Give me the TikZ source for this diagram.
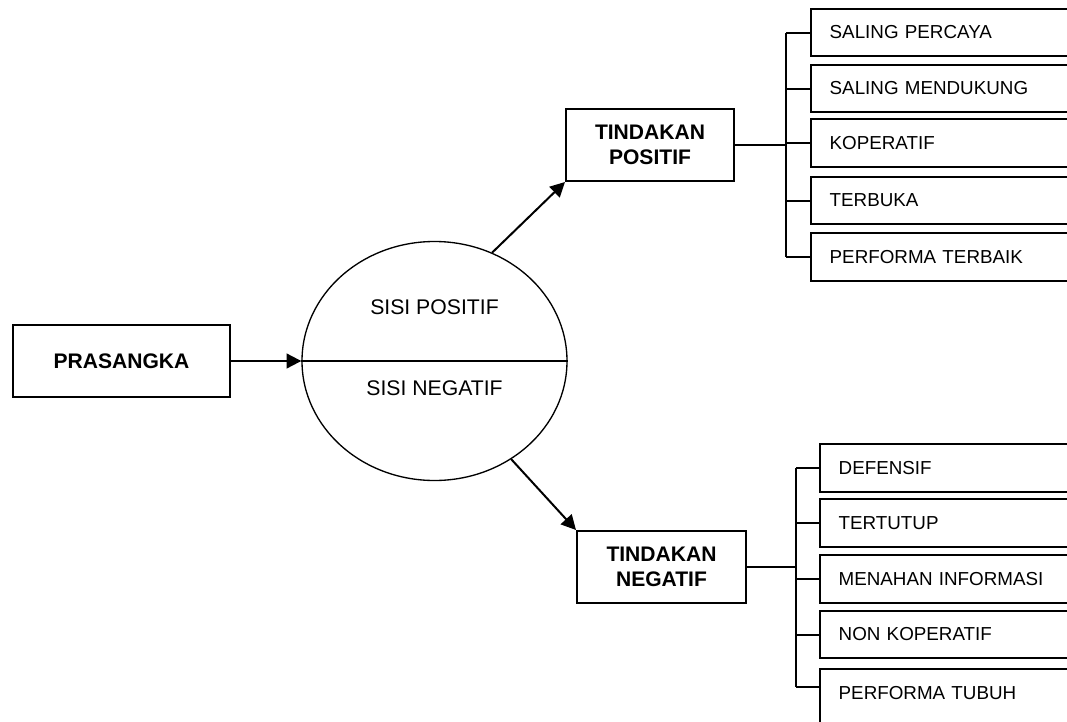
\documentclass[tikz,border=0pt]{standalone}
\usepackage{fontspec}
\setmainfont{Liberation Sans}
\usetikzlibrary{shapes.geometric,arrows.meta}
\tikzset{
  box/.style={draw, line width=1.5pt, align=center, minimum height=54pt, font=\bfseries\fontsize{15.8}{18.75}\selectfont},
  item/.style={draw, line width=1.5pt, anchor=west, minimum height=35.5pt, text width=200pt, inner xsep=14pt, align=left, font=\fontsize{14.1}{16}\selectfont},
  link/.style={line width=1.5pt},
  arr/.style={line width=1.5pt, -{Triangle[length=11pt,width=11pt]}},
}
\begin{document}
\begin{tikzpicture}[x=0.75pt, y=-0.75pt]
  \clip (0,0) rectangle (1067,721);

  \node[box, minimum width=162.75pt] (pras) at (121.5,361) {PRASANGKA};

  \node[draw, ellipse, line width=1pt, minimum width=198.75pt, minimum height=179.25pt, inner sep=0pt] (circ) at (434.5,361) {};
  \draw[line width=1.2pt] (circ.west) -- (circ.east);
  \node[font=\fontsize{15.9}{18}\selectfont] (spos) at (434.5,307) {SISI POSITIF};
  \node[font=\fontsize{15.9}{18}\selectfont] (sneg) at (434.5,388) {SISI NEGATIF};

  \node[box, minimum width=126pt] (tpos) at (650,145) {TINDAKAN\\POSITIF};
  \node[box, minimum width=126.75pt] (tneg) at (661.5,567) {TINDAKAN\\NEGATIF};

  \draw[arr] (pras.east) -- (circ.west);
  \draw[arr] (circ.62) -- (tpos.south west);
  \draw[arr] (circ.-52) -- (tneg.north west);

  \foreach \i/\y/\t in {1/32.5/SALING PERCAYA, 2/88.5/SALING MENDUKUNG, 3/143/KOPERATIF, 4/200.5/TERBUKA, 5/257/PERFORMA TERBAIK}
    \node[item] (p\i) at (810,\y) {\t};

  \foreach \i/\y/\t in {1/468/DEFENSIF, 2/523/TERTUTUP, 3/579/MENAHAN INFORMASI, 4/634.5/NON KOPERATIF}
    \node[item] (n\i) at (819,\y) {\t};
  \node[item, anchor=north west, minimum height=42pt, text height=10pt, text depth=7pt] (n5) at (819,668) {PERFORMA TUBUH};
  \coordinate (n5tick) at ([yshift=-14.25pt]n5.north west);

  \coordinate (pbus) at (786,145);
  \coordinate (nbus) at (796,567);
  \draw[link] (tpos.east) -- (pbus);
  \draw[link] (pbus |- p1.west) -- (pbus |- p5.west);
  \foreach \i in {1,...,5}
    \draw[link] (pbus |- p\i.west) -- (p\i.west);

  \draw[link] (tneg.east) -- (nbus);
  \draw[link] (nbus |- n1.west) -- (nbus |- n5tick);
  \foreach \i in {1,...,4}
    \draw[link] (nbus |- n\i.west) -- (n\i.west);
  \draw[link] (nbus |- n5tick) -- (n5tick);
\end{tikzpicture}
\end{document}
